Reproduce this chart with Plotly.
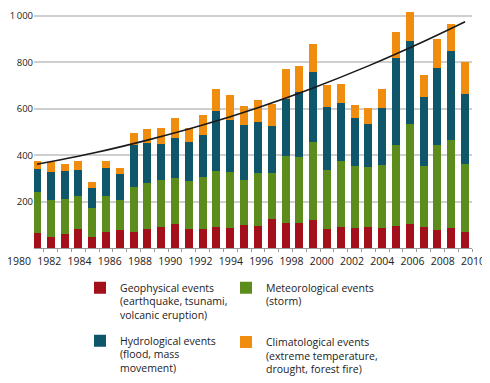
import plotly.graph_objects as go

years = list(range(1980, 2012))
geophysical = [65, 47, 62, 82, 47, 69, 79, 69, 83, 89, 103, 83, 83, 89, 86, 98,
               96, 126, 108, 108, 122, 82, 90, 85, 89, 85, 93, 103, 89, 79, 86, 69]
meteorological = [176, 161, 150, 143, 125, 156, 129, 196, 197, 202, 198, 204, 225, 241, 240, 196,
                  227, 197, 287, 284, 333, 255, 287, 267, 260, 274, 349, 431, 263, 363, 380, 294]
hydrological = [100, 119, 122, 112, 86, 119, 112, 177, 172, 158, 172, 172, 177, 261, 226, 237,
                218, 201, 246, 279, 303, 270, 247, 208, 186, 244, 379, 358, 298, 333, 383, 300]
climatological = [36, 43, 29, 40, 26, 33, 27, 53, 60, 69, 87, 60, 89, 93, 108, 82,
                  97, 96, 129, 115, 120, 96, 83, 55, 70, 81, 112, 127, 96, 125, 117, 140]

trend_years = [1980, 1984, 1988, 1992, 1996, 2000, 2004, 2008, 2011]
trend_values = [361, 408, 465, 530, 605, 690, 785, 890, 975]

label_years = list(range(1980, 2011, 2))
y_ticks = [200, 400, 600, 800, 1000]
y_tick_text = ["200", "400", "600", "800", "1\u2009000"]

names = [
    "Geophysical events<br>(earthquake, tsunami,<br>volcanic eruption)",
    "Meteorological events<br>(storm)",
    "Hydrological events<br>(flood, mass<br>movement)",
    "Climatological events<br>(extreme temperature,<br>drought, forest fire)",
]
colors = ["#A3101C", "#5C8C1C", "#10566B", "#F08C0E"]
series = [geophysical, meteorological, hydrological, climatological]
legends = ["legend", "legend2", "legend", "legend2"]

FONT = "Open Sans"
fig = go.Figure()
for i, (nm, col, vals, lg) in enumerate(zip(names, colors, series, legends)):
    fig.add_trace(go.Bar(
        x=years, y=vals, name=nm, marker=dict(color=col, line=dict(width=0)),
        width=0.58, legend=lg, legendgroup=f"g{i}", hoverinfo="skip",
    ))

fig.add_trace(go.Scatter(
    x=trend_years, y=trend_values, mode="lines",
    line=dict(color="#1a1a1a", width=1.6, shape="spline", smoothing=1.0),
    showlegend=False, hoverinfo="skip",
))

# invisible trace hosting the year-label axis
fig.add_trace(go.Scatter(x=[1980, 2010], y=[None, None], xaxis="x2", yaxis="y2",
                         mode="markers", showlegend=False, hoverinfo="skip"))

# the page body adds an 8px offset: layout coords = screen coords - 8
OFF = 8
L, R, T, B = 11, 21, 0, 143
W = 490 - L - R
H = 383 - T - B
px_per_year = (472 - 30) / 32
axis_start = 34          # screen x where gridlines / axis line begin
x_left = 1979.5 + (axis_start - 30) / px_per_year

fig.update_layout(
    width=490, height=383,
    margin=dict(l=L, r=R, t=T, b=B, autoexpand=False),
    paper_bgcolor="white", plot_bgcolor="rgba(0,0,0,0)",
    barmode="stack", bargap=0,
    font=dict(family=FONT, size=10, color="#222"),
    xaxis=dict(
        domain=[(axis_start - OFF - L) / W, (472 - OFF - L) / W],
        range=[x_left, 2011.5], automargin=False,
        showgrid=False, zeroline=False, showline=True, linecolor="#9a9a9a", linewidth=1,
        ticks="outside", tick0=1979.5, dtick=1, ticklen=3, tickcolor="#9a9a9a",
        showticklabels=False,
    ),
    xaxis2=dict(
        domain=[0, (473 - OFF - L) / W], anchor="y2", range=[1980, 2010], automargin=False,
        showgrid=False, zeroline=False, showline=False,
        tickmode="array", tickvals=label_years, ticktext=[str(y) for y in label_years],
        ticks="outside", ticklen=3, tickcolor="rgba(0,0,0,0)",
        ticklabeloverflow="allow",
        tickfont=dict(family=FONT, size=10.5, color="#222"),
    ),
    yaxis2=dict(domain=[0, 1], anchor="x2", range=[0, 1], visible=False,
                showgrid=False, zeroline=False),
    yaxis=dict(
        range=[0, H / 0.232], showgrid=True, gridcolor="#cfcfcf", gridwidth=1.5,
        zeroline=False, showline=False, automargin=False,
        tickmode="array", tickvals=y_ticks, ticktext=y_tick_text,
        ticks="", ticklabeloverflow="allow",
        tickfont=dict(family=FONT, size=9.5, color="#222"),
    ),
    legend=dict(
        x=(72 - L) / W, xanchor="left", y=-0.11, yanchor="top",
        orientation="v", valign="top", tracegroupgap=9,
        font=dict(family=FONT, size=10.5, color="#222"),
        bgcolor="rgba(0,0,0,0)", itemclick=False,
    ),
    legend2=dict(
        x=(218 - L) / W, xanchor="left", y=-0.11, yanchor="top",
        orientation="v", valign="top", tracegroupgap=24,
        font=dict(family=FONT, size=10.5, color="#222"),
        bgcolor="rgba(0,0,0,0)", itemclick=False,
    ),
    showlegend=True,
)

fig.write_html("out.html")
